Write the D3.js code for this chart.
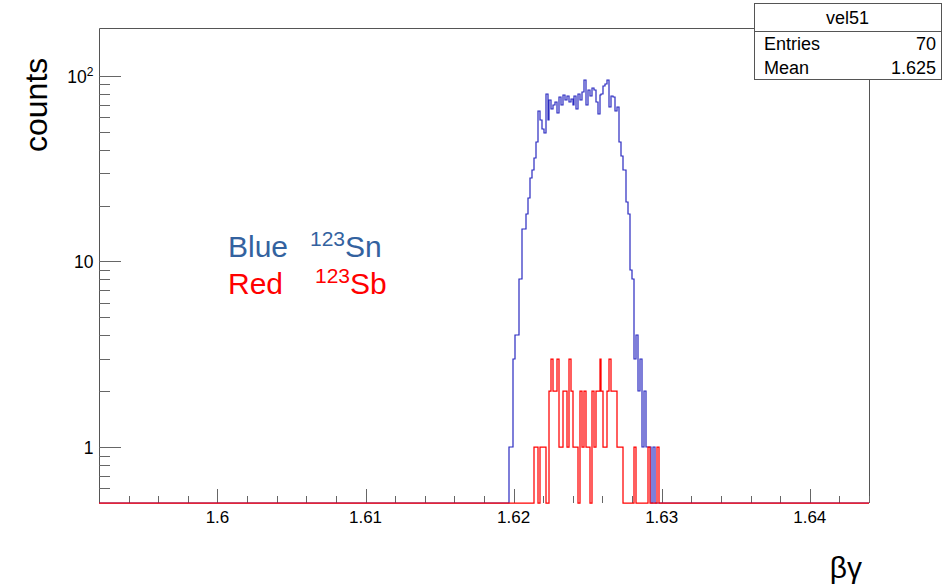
<!DOCTYPE html>
<html>
<head>
<meta charset="utf-8">
<script src="https://cdn.jsdelivr.net/npm/d3@7/dist/d3.min.js"></script>
<style>
  html, body { margin: 0; padding: 0; background: #fff; }
  svg { display: block; font-family: "Liberation Sans", Arial, Helvetica, sans-serif; }
</style>
</head>
<body>
<svg id="chart" width="942" height="588"></svg>
<script>
// Histogram binning (beta*gamma axis)
const binLow = 1.592;
const binWidth = 0.00013;
const nBins = 400;

// 123Sn counts, starting at bin index snFirstBin
const snFirstBin = 213;
const snCounts = [
  1, 1, 3, 4, 4, 8, 8, 15, 15, 18, 22, 28, 31, 36, 44, 65, 58, 52, 49, 80,
  58, 74, 66, 70, 72, 63, 77, 70, 79, 74, 78, 72, 75, 70, 78, 66, 80, 74, 82, 95,
  70, 84, 78, 86, 84, 72, 62, 79, 80, 88, 90, 95, 68, 78, 77, 65, 68, 44, 37, 31,
  31, 21, 18, 9, 8, 3, 4, 2, 3, 1, 2, 1, 1, 1, 0, 1
];

// 123Sb counts (vel51), starting at bin index sbFirstBin
const sbFirstBin = 226;
const sbCounts = [
  1, 1, 0, 1, 1, 1, 0, 0, 2, 3, 2, 2, 3, 1, 1, 2, 2, 1, 3, 2,
  1, 1, 1, 0, 2, 1, 2, 1, 1, 0, 2, 1, 2, 2, 3, 2, 1, 1, 2, 3,
  2, 2, 2, 1, 1, 1, 0, 0, 0, 0, 0, 0, 1, 0, 0, 0, 0, 0, 0, 1,
  0, 0, 0, 0, 1
];

// Axis ticks
const xMajorTicks = [1.60, 1.61, 1.62, 1.63, 1.64];
const xMinorStep = 0.002;
const yMajorTicks = [1, 10, 100];
const yMajorLabels = [["1", ""], ["10", ""], ["10", "2"]];
const yMinorTicks = [0.6, 0.7, 0.8, 0.9, 2, 3, 4, 5, 6, 7, 8, 9, 20, 30, 40, 50, 60, 70, 80, 90];

// Stats box
const statsTitle = "vel51";
const statsRows = [["Entries", "70"], ["Mean", "1.625"]];

// Frame
const frame = { left: 99, right: 869, top: 28, bottom: 503 };
const yDomain = [0.5, 181];

const svg = d3.select("#chart");

const x = d3.scaleLinear().domain([binLow, binLow + nBins * binWidth]).range([frame.left, frame.right]);
const y = d3.scaleLog().domain(yDomain).range([frame.bottom, frame.top]);

function fullBins(first, counts) {
  const arr = new Array(nBins).fill(0);
  counts.forEach((c, i) => { arr[first + i] = c; });
  return arr;
}

const px = v => Math.round(v) + 0.5;

// Step outline of a histogram; empty bins sit on the bottom edge of the frame
function histPath(values) {
  const yv = c => c > yDomain[0] ? Math.round(y(c)) : frame.bottom;
  let d = "";
  values.forEach((c, i) => {
    const x0 = Math.round(x(binLow + i * binWidth));
    const x1 = Math.round(x(binLow + (i + 1) * binWidth));
    if (i === 0) d += `M${x0},${yv(c)}`;
    else d += `V${yv(c)}`;
    d += `H${x1}`;
  });
  return d;
}

// Frame: left, top and right edges (the histograms run along the bottom edge)
svg.append("path")
  .attr("d", `M${frame.left + 0.5},${frame.bottom}V${frame.top + 0.5}H${frame.right + 0.5}V${frame.bottom}`)
  .attr("fill", "none").attr("stroke", "#555").attr("stroke-width", 1);

// X axis ticks (drawn inward from the bottom edge)
const xMinor = d3.range(binLow + xMinorStep, binLow + nBins * binWidth, xMinorStep)
  .filter(v => !xMajorTicks.some(m => Math.abs(m - v) < 1e-6));
const gx = svg.append("g");
gx.selectAll("line.minor").data(xMinor).join("line").attr("class", "minor")
  .attr("x1", d => px(x(d))).attr("x2", d => px(x(d)))
  .attr("y1", frame.bottom).attr("y2", frame.bottom - 7)
  .attr("stroke", "#666");
gx.selectAll("line.major").data(xMajorTicks).join("line").attr("class", "major")
  .attr("x1", d => px(x(d))).attr("x2", d => px(x(d)))
  .attr("y1", frame.bottom).attr("y2", frame.bottom - 14)
  .attr("stroke", "#666");
gx.selectAll("text").data(xMajorTicks).join("text")
  .attr("x", d => x(d)).attr("y", 523)
  .attr("text-anchor", "middle").attr("font-size", 17).attr("fill", "#000")
  .text(d => d3.format(".2~f")(d));

// Y axis ticks (drawn inward from the left edge)
const gy = svg.append("g");
gy.selectAll("line.minor").data(yMinorTicks).join("line").attr("class", "minor")
  .attr("x1", frame.left).attr("x2", frame.left + 11)
  .attr("y1", d => px(y(d))).attr("y2", d => px(y(d)))
  .attr("stroke", "#666");
gy.selectAll("line.major").data(yMajorTicks).join("line").attr("class", "major")
  .attr("x1", frame.left).attr("x2", frame.left + 22)
  .attr("y1", d => px(y(d))).attr("y2", d => px(y(d)))
  .attr("stroke", "#666");
const yl = gy.selectAll("text").data(yMajorTicks).join("text")
  .attr("x", 93.5).attr("y", d => y(d) + 7)
  .attr("text-anchor", "end").attr("font-size", 17.5).attr("fill", "#000");
yl.each(function(d, i) {
  const t = d3.select(this);
  t.append("tspan").text(yMajorLabels[i][0]);
  if (yMajorLabels[i][1]) {
    t.append("tspan").attr("dy", -7).attr("font-size", 12).text(yMajorLabels[i][1]);
  }
});

// Histograms: 123Sn first, then 123Sb on top
svg.append("path")
  .attr("d", histPath(fullBins(snFirstBin, snCounts)))
  .attr("fill", "none").attr("stroke", "#2828c0").attr("stroke-width", 1.2);
svg.append("path")
  .attr("d", histPath(fullBins(sbFirstBin, sbCounts)))
  .attr("fill", "none").attr("stroke", "#ff0000").attr("stroke-width", 1.25);

// Axis titles
svg.append("text")
  .attr("transform", "translate(47,152) rotate(-90)")
  .attr("font-size", 32).attr("fill", "#000").text("counts");
svg.append("text")
  .attr("x", 862).attr("y", 578).attr("text-anchor", "end")
  .attr("font-size", 30).attr("fill", "#000").text("βγ");

// In-plot legend text
const legend = [
  { name: "Blue", iso: "123", el: "Sn", color: "#33629f", y: 257, isoX: 310 },
  { name: "Red", iso: "123", el: "Sb", color: "#ff0000", y: 294, isoX: 315 }
];
legend.forEach(l => {
  const t = svg.append("text").attr("y", l.y).attr("fill", l.color).attr("font-size", 30);
  t.append("tspan").attr("x", 228).text(l.name);
  t.append("tspan").attr("x", l.isoX).attr("dy", -11).attr("font-size", 21).text(l.iso);
  t.append("tspan").attr("dy", 11).text(l.el);
});

// Stats box
const sb = { left: 754, right: 941, top: 3, title: 31, row: 24 };
const gs = svg.append("g");
gs.append("rect")
  .attr("x", sb.left + 0.5).attr("y", sb.top + 0.5)
  .attr("width", sb.right - sb.left).attr("height", sb.title - sb.top + sb.row * statsRows.length)
  .attr("fill", "#fff").attr("stroke", "#555");
gs.append("line")
  .attr("x1", sb.left).attr("x2", sb.right + 1)
  .attr("y1", sb.title + 0.5).attr("y2", sb.title + 0.5)
  .attr("stroke", "#555");
gs.append("text")
  .attr("x", (sb.left + sb.right) / 2).attr("y", sb.top + 21)
  .attr("text-anchor", "middle").attr("font-size", 18).text(statsTitle);
statsRows.forEach((r, i) => {
  const by = sb.title + sb.row * i + 19;
  gs.append("text").attr("x", sb.left + 10).attr("y", by).attr("font-size", 18).text(r[0]);
  gs.append("text").attr("x", sb.right - 5).attr("y", by).attr("text-anchor", "end").attr("font-size", 18).text(r[1]);
});
</script>
</body>
</html>
